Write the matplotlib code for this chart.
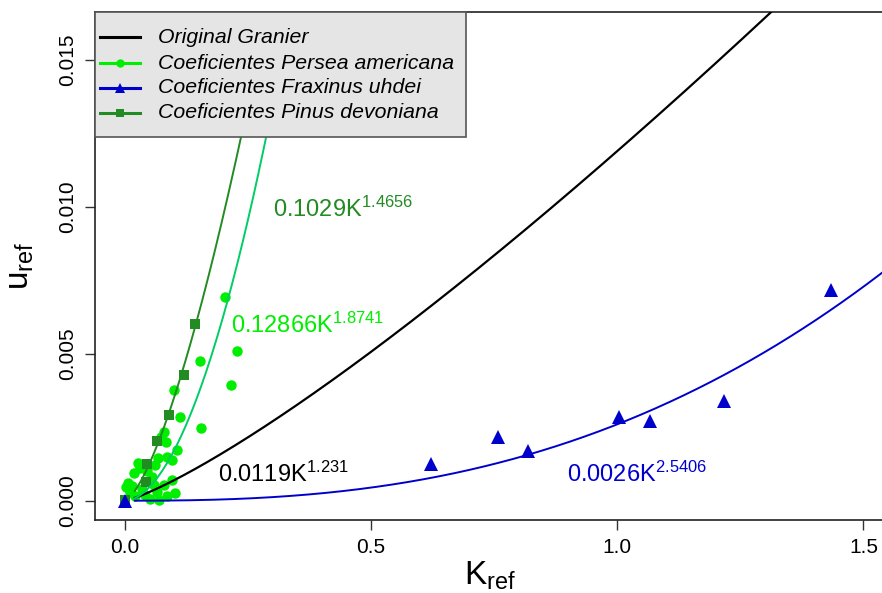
import matplotlib
matplotlib.use("Agg")
import matplotlib.pyplot as plt
from matplotlib.patches import Rectangle
import numpy as np

plt.rcParams['font.family'] = ['Liberation Sans', 'DejaVu Sans']
plt.rcParams['mathtext.fontset'] = 'custom'
plt.rcParams['mathtext.rm'] = 'Liberation Sans'
plt.rcParams['mathtext.it'] = 'Liberation Sans:italic'

# Measured points (K, u) for each species
persea_k = [0.203, 0.228, 0.152, 0.215, 0.099, 0.112, 0.154, 0.079, 0.074, 0.083,
            0.106, 0.085, 0.095, 0.068, 0.060, 0.026, 0.019, 0.030, 0.045, 0.055,
            0.007, 0.015, 0.003, 0.095, 0.102, 0.065, 0.050, 0.070, 0.085, 0.035,
            0.040, 0.020, 0.010, 0.080, 0.058]
persea_u = [0.00694, 0.00510, 0.00474, 0.00394, 0.00376, 0.00285, 0.00249, 0.00235, 0.00216, 0.00200,
            0.00173, 0.00150, 0.00139, 0.00144, 0.00120, 0.00127, 0.00093, 0.00110, 0.00100, 0.00080,
            0.00059, 0.00050, 0.00045, 0.00070, 0.00025, 0.00030, 0.00005, 0.00002, 0.00015, 0.00040,
            0.00020, 0.00015, 0.00030, 0.00055, 0.00055]

pinus_k = [0.142, 0.120, 0.089, 0.066, 0.045, 0.042, 0.000]
pinus_u = [0.00602, 0.00428, 0.00292, 0.00204, 0.00124, 0.00064, 0.00003]

fraxinus_k = [1.435, 1.217, 1.066, 1.003, 0.622, 0.758, 0.819, 0.000]
fraxinus_u = [0.00716, 0.00338, 0.00272, 0.00286, 0.00124, 0.00216, 0.00169, 0.0]

# Fitted power laws u = a * K^b
granier_a, granier_b = 0.0119, 1.231
persea_a, persea_b = 0.12866, 1.8741
fraxinus_a, fraxinus_b = 0.0026, 2.5406
pinus_a, pinus_b = 0.1029, 1.4656

legend_labels = ['Original Granier', 'Coeficientes Persea americana',
                 'Coeficientes Fraxinus uhdei', 'Coeficientes Pinus devoniana']

black = 'black'
persea_col = '#00EE00'
persea_fit_col = '#00CD66'
fraxinus_col = '#0000CD'
pinus_col = '#228B22'

fig = plt.figure(figsize=(8.82, 5.93), dpi=100)
ax = fig.add_axes([95 / 882, 73 / 593, 790 / 882, 508 / 593])

ax.plot(persea_k, persea_u, 'o', color=persea_col, ms=7.5, mew=0, zorder=2)
ax.plot(pinus_k, pinus_u, 's', color=pinus_col, ms=7.5, mew=0, zorder=3)
ax.plot(fraxinus_k, fraxinus_u, '^', color=fraxinus_col, ms=9.5, mew=0, zorder=3)

k = np.linspace(0.02, 1.6, 600)
ax.plot(k, granier_a * k ** granier_b, color=black, lw=1.6, zorder=4)
ax.plot(k, persea_a * k ** persea_b, color=persea_fit_col, lw=1.4, zorder=4)
ax.plot(k, fraxinus_a * k ** fraxinus_b, color=fraxinus_col, lw=1.4, zorder=4)
ax.plot(k, pinus_a * k ** pinus_b, color=pinus_col, lw=1.4, zorder=4)

# Equation labels
eq_size = 17
ax.text(0.3006, 0.00967, r'$\mathrm{0.1029K}^{\mathrm{1.4656}}$', color=pinus_col,
        fontsize=eq_size, ha='left', va='baseline')
ax.text(0.2145, 0.00570, r'$\mathrm{0.12866K}^{\mathrm{1.8741}}$', color=persea_col,
        fontsize=eq_size, ha='left', va='baseline')
ax.text(0.1895, 0.00065, r'$\mathrm{0.0119K}^{\mathrm{1.231}}$', color=black,
        fontsize=eq_size, ha='left', va='baseline')
ax.text(0.898, 0.00065, r'$\mathrm{0.0026K}^{\mathrm{2.5406}}$', color=fraxinus_col,
        fontsize=eq_size, ha='left', va='baseline')

ax.set_xlim(-0.0609, 1.5438)
ax.set_ylim(-0.000657, 0.016634)
ax.set_xticks([0.0, 0.5, 1.0, 1.5])
ax.set_xticklabels(['0.0', '0.5', '1.0', '1.5'])
ax.set_yticks([0.0, 0.005, 0.010, 0.015])
ax.set_yticklabels(['0.000', '0.005', '0.010', '0.015'], rotation=90, va='center')
ax.tick_params(direction='out', length=7, width=1, labelsize=15, pad=6, color='#333333')

for s in ax.spines.values():
    s.set_linewidth(1.2)
    s.set_color('#222222')

ax.set_xlabel(r'$\mathrm{K}_{\mathrm{ref}}$', fontsize=24, labelpad=2)
ax.set_ylabel(r'$\mathrm{u}_{\mathrm{ref}}$', fontsize=24, labelpad=16)

# Legend box drawn by hand, in axes fractions
tr = ax.transAxes
ax.add_patch(Rectangle((0, 0.754), 0.4696, 0.246, transform=tr, facecolor='#E5E5E5',
                       edgecolor='#555555', lw=1.2, zorder=10, clip_on=False))
row_y = [0.950, 0.899, 0.851, 0.802]
styles = [(black, None, 0), (persea_col, 'o', 6), (fraxinus_col, '^', 7.5), (pinus_col, 's', 6)]
for yy, (col, mk, ms), lab in zip(row_y, styles, legend_labels):
    ax.plot([0.0065, 0.057], [yy, yy], color=col, lw=2.2, transform=tr, zorder=11,
            clip_on=False)
    if mk:
        ax.plot([0.032], [yy], marker=mk, color=col, ms=ms, mew=0, transform=tr, zorder=12,
                clip_on=False)
    ax.text(0.0797, yy, lab, transform=tr, fontsize=15.3, style='italic', va='center',
            ha='left', zorder=12)

fig.savefig('out.png', dpi=100)
